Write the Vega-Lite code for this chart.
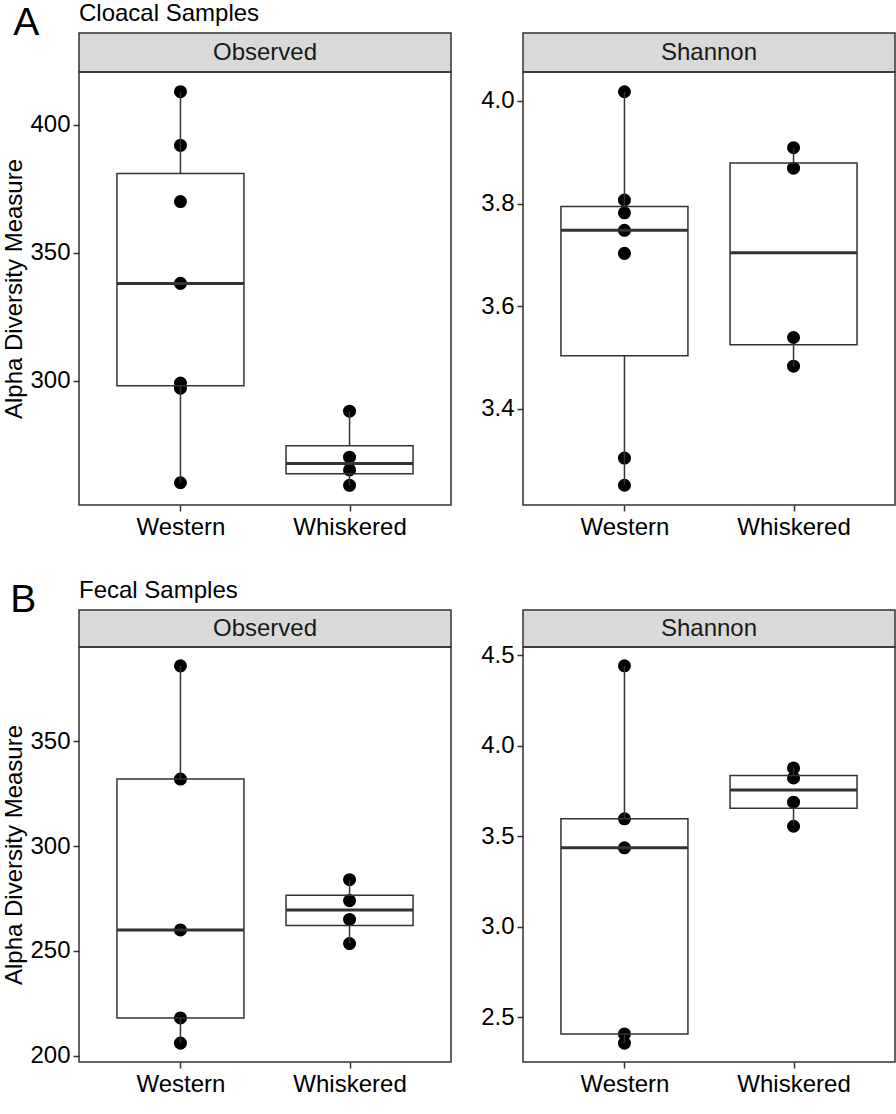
{
  "$schema": "https://vega.github.io/schema/vega-lite/v6.json",
  "padding": {"left": 2, "top": 2, "right": 0, "bottom": 2},
  "background": "white",
  "config": {
    "font": "Liberation Sans",
    "view": {"stroke": "#333333", "strokeWidth": 1.5},
    "axis": {"domain": false, "grid": false, "ticks": true, "tickColor": "#333333", "tickSize": 6, "tickWidth": 1.5, "labelFontSize": 24, "labelColor": "#000000", "labelPadding": 4, "titleFontSize": 24, "titleFontWeight": "normal", "titleColor": "#000000", "titlePadding": 3},
    "axisX": {"labelAngle": 0},
    "axisY": {"labelPadding": 3},
    "title": {"fontSize": 24, "fontWeight": "normal", "anchor": "start", "color": "#000000"}
  },
  "datasets": {
    "alpha": [
      {"sample": "Cloacal", "measure": "Observed", "species": "Western", "value": 413},
      {"sample": "Cloacal", "measure": "Observed", "species": "Western", "value": 392},
      {"sample": "Cloacal", "measure": "Observed", "species": "Western", "value": 370},
      {"sample": "Cloacal", "measure": "Observed", "species": "Western", "value": 338},
      {"sample": "Cloacal", "measure": "Observed", "species": "Western", "value": 299},
      {"sample": "Cloacal", "measure": "Observed", "species": "Western", "value": 297},
      {"sample": "Cloacal", "measure": "Observed", "species": "Western", "value": 260},
      {"sample": "Cloacal", "measure": "Observed", "species": "Whiskered", "value": 288},
      {"sample": "Cloacal", "measure": "Observed", "species": "Whiskered", "value": 270},
      {"sample": "Cloacal", "measure": "Observed", "species": "Whiskered", "value": 265},
      {"sample": "Cloacal", "measure": "Observed", "species": "Whiskered", "value": 259},
      {"sample": "Cloacal", "measure": "Shannon", "species": "Western", "value": 4.018},
      {"sample": "Cloacal", "measure": "Shannon", "species": "Western", "value": 3.807},
      {"sample": "Cloacal", "measure": "Shannon", "species": "Western", "value": 3.782},
      {"sample": "Cloacal", "measure": "Shannon", "species": "Western", "value": 3.748},
      {"sample": "Cloacal", "measure": "Shannon", "species": "Western", "value": 3.703},
      {"sample": "Cloacal", "measure": "Shannon", "species": "Western", "value": 3.304},
      {"sample": "Cloacal", "measure": "Shannon", "species": "Western", "value": 3.251},
      {"sample": "Cloacal", "measure": "Shannon", "species": "Whiskered", "value": 3.909},
      {"sample": "Cloacal", "measure": "Shannon", "species": "Whiskered", "value": 3.869},
      {"sample": "Cloacal", "measure": "Shannon", "species": "Whiskered", "value": 3.539},
      {"sample": "Cloacal", "measure": "Shannon", "species": "Whiskered", "value": 3.483},
      {"sample": "Fecal", "measure": "Observed", "species": "Western", "value": 386},
      {"sample": "Fecal", "measure": "Observed", "species": "Western", "value": 332},
      {"sample": "Fecal", "measure": "Observed", "species": "Western", "value": 260},
      {"sample": "Fecal", "measure": "Observed", "species": "Western", "value": 218},
      {"sample": "Fecal", "measure": "Observed", "species": "Western", "value": 206},
      {"sample": "Fecal", "measure": "Observed", "species": "Whiskered", "value": 284},
      {"sample": "Fecal", "measure": "Observed", "species": "Whiskered", "value": 274},
      {"sample": "Fecal", "measure": "Observed", "species": "Whiskered", "value": 265},
      {"sample": "Fecal", "measure": "Observed", "species": "Whiskered", "value": 253.5},
      {"sample": "Fecal", "measure": "Shannon", "species": "Western", "value": 4.441},
      {"sample": "Fecal", "measure": "Shannon", "species": "Western", "value": 3.596},
      {"sample": "Fecal", "measure": "Shannon", "species": "Western", "value": 3.436},
      {"sample": "Fecal", "measure": "Shannon", "species": "Western", "value": 2.408},
      {"sample": "Fecal", "measure": "Shannon", "species": "Western", "value": 2.357},
      {"sample": "Fecal", "measure": "Shannon", "species": "Whiskered", "value": 3.877},
      {"sample": "Fecal", "measure": "Shannon", "species": "Whiskered", "value": 3.822},
      {"sample": "Fecal", "measure": "Shannon", "species": "Whiskered", "value": 3.688},
      {"sample": "Fecal", "measure": "Shannon", "species": "Whiskered", "value": 3.555}
    ]
  },
  "spacing": 39,
  "vconcat": [
    {
      "title": {"text": "A", "font": "Liberation Sans", "fontSize": 39, "anchor": "start", "frame": "bounds", "dx": 11, "offset": -41},
      "spacing": 27,
      "hconcat": [
        {
          "title": {"text": "Cloacal Samples", "anchor": "start", "frame": "group", "offset": 6},
          "spacing": 0,
          "bounds": "flush",
          "vconcat": [
            {"data": {"values": [{"measure": "Observed"}]}, "width": 372, "height": 39, "view": {"fill": "#D9D9D9", "stroke": "#333333", "strokeWidth": 1.5}, "mark": {"type": "text", "fontSize": 24, "color": "#1a1a1a"}, "encoding": {"text": {"field": "measure"}}},
            {
              "width": 372, "height": 433,
              "data": {"name": "alpha"},
              "transform": [{"filter": "datum.sample === 'Cloacal' && datum.measure === 'Observed'"}],
              "encoding": {
                "x": {"field": "species", "type": "nominal", "scale": {"type": "point", "padding": 0.6}, "axis": {"title": null}},
                "y": {"field": "value", "type": "quantitative", "scale": {"domain": [251.3, 420.7], "nice": false, "zero": false}, "axis": {"title": "Alpha Diversity Measure", "values": [300, 350, 400]}}
              },
              "layer": [
                {"mark": {"type": "point", "filled": true, "size": 170, "color": "#000000", "opacity": 1}},
                {"mark": {"type": "boxplot", "extent": "min-max", "size": 127, "color": "#333333", "outliers": false, "box": {"fill": "transparent", "stroke": "#333333", "strokeWidth": 1.5}, "median": {"color": "#333333", "thickness": 3, "opacity": 1}, "rule": {"color": "#333333", "strokeWidth": 1.5}}}
              ]
            }
          ]
        },
        {
          "spacing": 0,
          "bounds": "flush",
          "vconcat": [
            {"data": {"values": [{"measure": "Shannon"}]}, "width": 372, "height": 39, "view": {"fill": "#D9D9D9", "stroke": "#333333", "strokeWidth": 1.5}, "mark": {"type": "text", "fontSize": 24, "color": "#1a1a1a"}, "encoding": {"text": {"field": "measure"}}},
            {
              "width": 372, "height": 433,
              "data": {"name": "alpha"},
              "transform": [{"filter": "datum.sample === 'Cloacal' && datum.measure === 'Shannon'"}],
              "encoding": {
                "x": {"field": "species", "type": "nominal", "scale": {"type": "point", "padding": 0.6}, "axis": {"title": null}},
                "y": {"field": "value", "type": "quantitative", "scale": {"domain": [3.2125, 4.0565], "nice": false, "zero": false}, "axis": {"title": null, "values": [3.4, 3.6, 3.8, 4.0], "format": ".1f"}}
              },
              "layer": [
                {"mark": {"type": "point", "filled": true, "size": 170, "color": "#000000", "opacity": 1}},
                {"mark": {"type": "boxplot", "extent": "min-max", "size": 127, "color": "#333333", "outliers": false, "box": {"fill": "transparent", "stroke": "#333333", "strokeWidth": 1.5}, "median": {"color": "#333333", "thickness": 3, "opacity": 1}, "rule": {"color": "#333333", "strokeWidth": 1.5}}}
              ]
            }
          ]
        }
      ]
    },
    {
      "title": {"text": "B", "font": "Liberation Sans", "fontSize": 39, "anchor": "start", "frame": "bounds", "dx": 8, "offset": -41},
      "spacing": 27,
      "hconcat": [
        {
          "title": {"text": "Fecal Samples", "anchor": "start", "frame": "group", "offset": 6},
          "spacing": 0,
          "bounds": "flush",
          "vconcat": [
            {"data": {"values": [{"measure": "Observed"}]}, "width": 372, "height": 37, "view": {"fill": "#D9D9D9", "stroke": "#333333", "strokeWidth": 1.5}, "mark": {"type": "text", "fontSize": 24, "color": "#1a1a1a"}, "encoding": {"text": {"field": "measure"}}},
            {
              "width": 372, "height": 415,
              "data": {"name": "alpha"},
              "transform": [{"filter": "datum.sample === 'Fecal' && datum.measure === 'Observed'"}],
              "encoding": {
                "x": {"field": "species", "type": "nominal", "scale": {"type": "point", "padding": 0.6}, "axis": {"title": null}},
                "y": {"field": "value", "type": "quantitative", "scale": {"domain": [197, 395], "nice": false, "zero": false}, "axis": {"title": "Alpha Diversity Measure", "values": [200, 250, 300, 350]}}
              },
              "layer": [
                {"mark": {"type": "point", "filled": true, "size": 170, "color": "#000000", "opacity": 1}},
                {"mark": {"type": "boxplot", "extent": "min-max", "size": 127, "color": "#333333", "outliers": false, "box": {"fill": "transparent", "stroke": "#333333", "strokeWidth": 1.5}, "median": {"color": "#333333", "thickness": 3, "opacity": 1}, "rule": {"color": "#333333", "strokeWidth": 1.5}}}
              ]
            }
          ]
        },
        {
          "spacing": 0,
          "bounds": "flush",
          "vconcat": [
            {"data": {"values": [{"measure": "Shannon"}]}, "width": 372, "height": 37, "view": {"fill": "#D9D9D9", "stroke": "#333333", "strokeWidth": 1.5}, "mark": {"type": "text", "fontSize": 24, "color": "#1a1a1a"}, "encoding": {"text": {"field": "measure"}}},
            {
              "width": 372, "height": 415,
              "data": {"name": "alpha"},
              "transform": [{"filter": "datum.sample === 'Fecal' && datum.measure === 'Shannon'"}],
              "encoding": {
                "x": {"field": "species", "type": "nominal", "scale": {"type": "point", "padding": 0.6}, "axis": {"title": null}},
                "y": {"field": "value", "type": "quantitative", "scale": {"domain": [2.253, 4.545], "nice": false, "zero": false}, "axis": {"title": null, "values": [2.5, 3.0, 3.5, 4.0, 4.5], "format": ".1f"}}
              },
              "layer": [
                {"mark": {"type": "point", "filled": true, "size": 170, "color": "#000000", "opacity": 1}},
                {"mark": {"type": "boxplot", "extent": "min-max", "size": 127, "color": "#333333", "outliers": false, "box": {"fill": "transparent", "stroke": "#333333", "strokeWidth": 1.5}, "median": {"color": "#333333", "thickness": 3, "opacity": 1}, "rule": {"color": "#333333", "strokeWidth": 1.5}}}
              ]
            }
          ]
        }
      ]
    }
  ]
}
